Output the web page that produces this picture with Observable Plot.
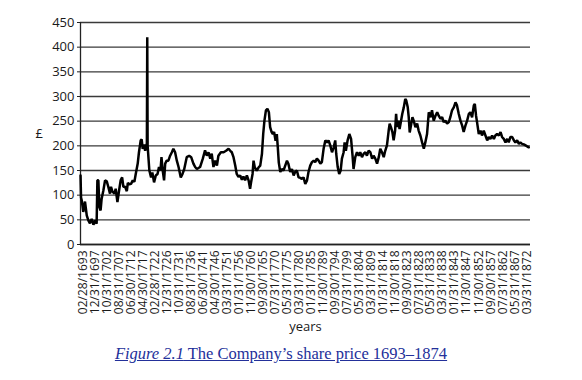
<!DOCTYPE html>
<html><head><meta charset="utf-8">
<script src="https://cdn.jsdelivr.net/npm/d3@7"></script>
<script src="https://cdn.jsdelivr.net/npm/@observablehq/plot@0.6"></script>
<style>
body{margin:0;background:#fff;}
#chart{position:absolute;left:0;top:0;}
#cap{position:absolute;left:0;top:344px;width:562px;text-align:center;font-family:"Liberation Serif","DejaVu Serif",serif;font-size:16.5px;color:#23309a;text-decoration:underline;}
</style></head><body>
<div id="chart"></div>
<div id="cap"><i>Figure 2.1</i> The Company’s share price 1693–1874</div>
<script>
const tickLabels = ["02/28/1693","12/31/1697","10/31/1702","08/31/1707","06/30/1712","04/30/1717","02/28/1722","12/31/1726","10/31/1731","08/31/1736","06/30/1741","04/30/1746","03/31/1751","01/31/1756","11/30/1760","09/30/1765","07/31/1770","05/31/1775","03/31/1780","01/31/1785","11/30/1789","09/30/1794","07/31/1799","05/31/1804","03/31/1809","01/31/1814","11/30/1818","09/30/1823","07/31/1828","05/31/1833","03/31/1838","01/31/1843","11/30/1847","11/30/1852","09/30/1857","07/31/1862","05/31/1867","03/31/1872"];
const yTicks = [0,50,100,150,200,250,300,350,400,450];

const years = [1693.1,1693.3,1693.6,1694.2,1694.9,1695.6,1696.25,1696.9,1697.6,1698.3,1698.95,1699.6,1699.9,1700.3,1700.7,1701.2,1701.6,1702.3,1703.0,1703.7,1704.3,1705.0,1705.4,1706.0,1706.8,1707.3,1708.0,1708.65,1709.3,1709.9,1710.4,1711.1,1711.8,1712.2,1712.8,1713.5,1714.2,1714.85,1715.4,1716.2,1716.7,1717.4,1717.8,1718.2,1718.8,1719.2,1719.7,1719.9,1720.05,1720.2,1720.9,1721.6,1722.1,1722.8,1723.5,1724.2,1724.8,1725.4,1725.8,1726.3,1726.85,1727.3,1727.9,1728.6,1729.3,1730.0,1730.6,1731.3,1732.0,1732.7,1733.6,1734.3,1735.0,1736.0,1737.0,1737.8,1738.7,1739.4,1740.1,1741.4,1742.5,1743.4,1744.1,1744.8,1745.5,1746.1,1746.8,1747.5,1748.2,1748.8,1749.8,1750.9,1751.9,1752.9,1753.6,1754.2,1754.9,1755.6,1756.2,1756.9,1757.6,1758.3,1758.9,1759.6,1760.3,1761.0,1761.6,1762.0,1762.6,1763.0,1763.5,1764.3,1765.0,1765.7,1766.4,1766.9,1767.4,1768.0,1768.6,1769.2,1769.7,1770.3,1770.8,1771.3,1771.9,1772.4,1772.8,1773.2,1773.8,1774.4,1775.1,1775.8,1776.5,1777.1,1777.8,1778.5,1779.2,1779.8,1780.5,1781.2,1781.9,1782.5,1783.2,1783.9,1784.6,1785.2,1785.9,1786.6,1787.3,1787.9,1788.6,1789.3,1790.0,1790.6,1791.3,1792.0,1792.7,1793.3,1794.0,1794.7,1795.4,1796.0,1796.4,1797.0,1797.6,1798.2,1798.7,1799.4,1799.8,1800.3,1801.0,1801.7,1802.4,1803.0,1803.4,1804.1,1804.8,1805.5,1806.1,1806.8,1807.5,1808.2,1808.8,1809.5,1810.2,1810.9,1811.5,1812.2,1812.9,1813.6,1814.2,1814.9,1815.6,1816.2,1816.9,1817.6,1818.0,1818.5,1819.1,1819.6,1820.2,1820.6,1821.0,1821.5,1822.0,1822.6,1823.1,1823.7,1824.3,1824.7,1825.3,1825.7,1826.1,1826.6,1827.2,1827.7,1828.4,1829.1,1829.7,1830.4,1831.1,1831.8,1832.4,1833.1,1833.8,1834.5,1835.1,1835.8,1836.5,1837.2,1837.8,1838.5,1839.2,1839.8,1840.5,1841.2,1841.9,1842.5,1843.2,1843.9,1844.6,1845.2,1845.9,1846.6,1847.3,1847.9,1848.6,1849.3,1850.0,1850.6,1851.3,1852.0,1852.4,1852.9,1853.3,1854.0,1854.7,1855.3,1856.0,1856.7,1857.4,1858.0,1858.7,1859.4,1860.1,1860.7,1861.4,1862.1,1862.8,1863.4,1864.1,1864.8,1865.5,1866.1,1866.8,1867.5,1868.2,1868.8,1869.5,1870.2,1870.8,1871.5,1872.2,1872.9,1873.5,1874.2];

const prices = [140,95,89,66,87,59,49,43,52,40,49,42,130,130,76,69,92,109,130,128,117,103,117,107,103,113,86,109,130,136,117,117,108,125,122,123,130,127,143,164,187,211,213,194,203,190,200,205,420,200,150,136,146,126,140,143,157,150,177,150,130,164,170,170,180,187,194,187,170,157,136,143,153,177,180,177,164,157,153,157,174,191,180,187,174,184,157,170,160,180,187,187,190,194,190,187,177,160,143,137,140,131,138,130,140,130,113,126,143,170,156,150,156,160,184,224,251,272,275,268,238,228,224,228,210,224,197,166,147,153,150,160,170,163,147,153,140,147,150,136,135,133,136,123,130,147,160,167,170,167,174,170,164,167,194,211,207,211,201,187,197,211,184,157,143,150,174,187,207,190,211,224,214,180,153,177,187,180,187,177,184,187,180,190,187,174,180,174,164,177,194,187,177,190,201,231,245,238,228,211,231,265,238,251,234,251,265,278,295,292,278,258,227,241,258,251,238,245,231,221,207,194,207,224,268,258,272,251,261,268,261,255,258,248,251,245,248,258,272,278,288,282,265,251,241,228,241,251,265,268,258,282,285,261,248,224,231,221,231,221,211,218,214,221,214,221,224,221,228,218,214,207,214,207,218,218,211,207,211,204,207,204,203,201,199,197];

const tickYears = tickLabels.map(s => { const [m, d, y] = s.split("/").map(Number); return y + (m - 1) / 12; });
const labelOf = new Map(tickYears.map((t, i) => [t, tickLabels[i]]));
const data = years.map((y, i) => ({year: y, price: prices[i]}));

const chart = Plot.plot({
  width: 582, height: 340,
  marginTop: 22, marginBottom: 96, marginLeft: 80, marginRight: 52,
  style: {fontFamily: "'Open Sans', sans-serif", fontSize: "12px", color: "#1a1a1a", background: "white"},
  x: {type: "linear", domain: [1693.08, 1874.9], axis: null},
  y: {domain: [0, 450], axis: null},
  marks: [
    Plot.gridY(yTicks, {stroke: "#3a3a3a", strokeOpacity: 1, strokeWidth: 1.3}),
    Plot.axisY(yTicks, {tickSize: 3, tickPadding: 3, fontSize: 13, label: null, stroke: "#222"}),
    Plot.axisX(tickYears, {tickSize: 0, tickPadding: 6, tickRotate: -90, fontSize: 12, dx: 3, label: null, tickFormat: d => labelOf.get(d)}),
    Plot.ruleX([1693.08], {stroke: "#222", strokeWidth: 1.3}),
    Plot.ruleY([0], {stroke: "#222", strokeWidth: 1.6}),
    Plot.line(data, {x: "year", y: "price", stroke: "#000", strokeWidth: 2.5, strokeLinejoin: "miter"}),
    Plot.text(["£"], {frameAnchor: "left", dx: -45, fontSize: 13}),
    Plot.text(["years"], {frameAnchor: "bottom", dy: 86, fontSize: 13})
  ]
});
document.getElementById("chart").append(chart);
</script>
</body></html>
